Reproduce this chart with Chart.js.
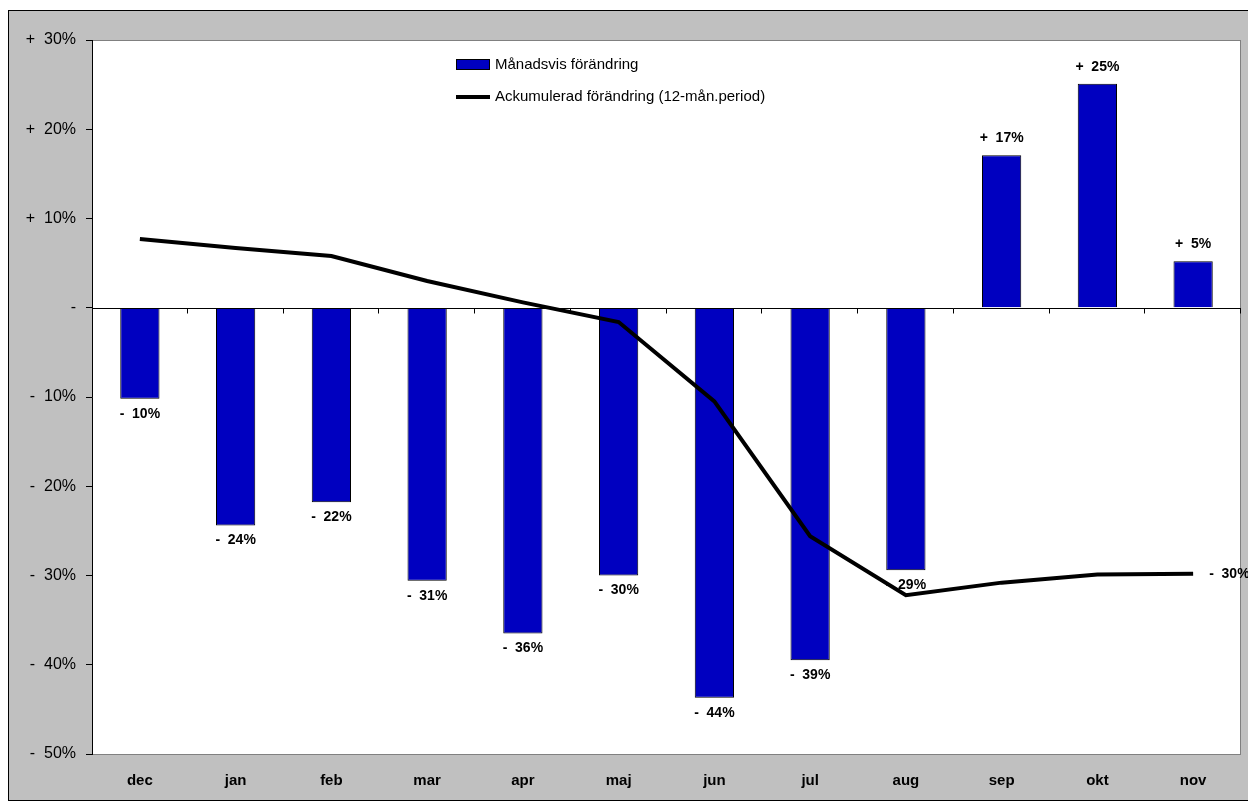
<!DOCTYPE html>
<html>
<head>
<meta charset="utf-8">
<script src="https://cdn.jsdelivr.net/npm/chart.js@4/dist/chart.umd.min.js"></script>
<style>
  html, body { margin: 0; padding: 0; background: #fff; }
  canvas { display: block; }
</style>
</head>
<body>
<canvas id="chart" width="1248" height="803"></canvas>
<script>
// chart data
const months = ['dec', 'jan', 'feb', 'mar', 'apr', 'maj', 'jun', 'jul', 'aug', 'sep', 'okt', 'nov'];
const monthly = [-10.2, -24.4, -21.8, -30.6, -36.5, -30.0, -43.7, -39.5, -29.4, 17.1, 25.1, 5.2];
const accumulated = [7.7, 6.7, 5.8, 3.0, 0.6, -1.6, -10.5, -25.6, -32.2, -30.8, -29.9, -29.8];
const yTicks = [30, 20, 10, 0, -10, -20, -30, -40, -50];

const FONT = 'Arial, "Liberation Sans", sans-serif';

const fmt = (v) => {
  const r = Math.round(v);
  if (r > 0) return '+  ' + r + '%';
  if (r < 0) return '-  ' + (-r) + '%';
  return '-';
};

// frame, plot area background, zero line, value labels, legend
const excelLook = {
  id: 'excelLook',
  beforeDraw(chart) {
    const { ctx, chartArea: a } = chart;
    ctx.save();
    ctx.fillStyle = '#fff';
    ctx.fillRect(0, 0, chart.width, chart.height);
    ctx.fillStyle = '#c0c0c0';
    ctx.fillRect(8, 10, chart.width, 791);
    ctx.strokeStyle = '#000';
    ctx.lineWidth = 1;
    ctx.strokeRect(8.5, 10.5, chart.width + 10, 790);
    ctx.fillStyle = '#fff';
    ctx.fillRect(a.left, a.top, a.right - a.left, a.bottom - a.top);
    ctx.strokeStyle = '#808080';
    ctx.strokeRect(a.left + 0.5, a.top + 0.5, a.right - a.left - 1, a.bottom - a.top);
    ctx.restore();
  },
  afterDatasetDraw(chart, args) {
    if (args.index !== 0) return;
    const { ctx, chartArea: a, scales } = chart;
    const y0 = Math.round(scales.y.getPixelForValue(0)) + 0.5;
    const step = (a.right - a.left) / months.length;
    ctx.save();
    ctx.strokeStyle = '#000';
    ctx.lineWidth = 1;
    ctx.beginPath();
    ctx.moveTo(a.left, y0);
    ctx.lineTo(a.right, y0);
    for (let k = 1; k <= months.length; k++) {
      const x = Math.round(a.left + k * step) - 0.5;
      ctx.moveTo(x, y0);
      ctx.lineTo(x, y0 + 5);
    }
    ctx.stroke();

    ctx.fillStyle = '#000';
    ctx.font = 'bold 14px ' + FONT;
    ctx.textAlign = 'center';
    ctx.textBaseline = 'middle';
    chart.getDatasetMeta(0).data.forEach((bar, i) => {
      const v = monthly[i];
      const ty = v >= 0 ? bar.y - 17 : bar.y + 15;
      ctx.fillText(fmt(v), bar.x, ty);
    });
    ctx.restore();
  },
  afterDraw(chart) {
    const { ctx } = chart;
    ctx.save();
    // last value of the accumulated line
    const pts = chart.getDatasetMeta(1).data;
    const last = pts[pts.length - 1];
    ctx.fillStyle = '#000';
    ctx.font = 'bold 14px ' + FONT;
    ctx.textAlign = 'left';
    ctx.textBaseline = 'middle';
    ctx.fillText(fmt(accumulated[accumulated.length - 1]), last.x + 16, last.y);

    // legend
    const ds = chart.data.datasets;
    ctx.font = '15px ' + FONT;
    ctx.fillStyle = ds[0].backgroundColor;
    ctx.fillRect(456, 59, 34, 11);
    ctx.strokeStyle = '#000';
    ctx.lineWidth = 1;
    ctx.strokeRect(456.5, 59.5, 33, 10);
    ctx.fillStyle = '#000';
    ctx.fillText(ds[0].label, 495, 65);
    ctx.strokeStyle = ds[1].borderColor;
    ctx.lineWidth = 4;
    ctx.beginPath();
    ctx.moveTo(456, 97);
    ctx.lineTo(490, 97);
    ctx.stroke();
    ctx.fillText(ds[1].label, 495, 97);
    ctx.restore();
  }
};

new Chart(document.getElementById('chart'), {
  type: 'bar',
  data: {
    labels: months,
    datasets: [
      {
        type: 'bar',
        label: 'Månadsvis förändring',
        data: monthly,
        backgroundColor: '#0000c0',
        borderColor: '#000',
        borderWidth: 1,
        barPercentage: 0.41,
        categoryPercentage: 1,
        order: 2
      },
      {
        type: 'line',
        label: 'Ackumulerad förändring (12-mån.period)',
        data: accumulated,
        borderColor: '#000',
        borderWidth: 4,
        pointRadius: 0,
        tension: 0,
        fill: false,
        order: 1
      }
    ]
  },
  options: {
    responsive: false,
    animation: false,
    layout: { padding: { left: 0, top: 40, right: 7, bottom: 0 } },
    plugins: {
      legend: { display: false },
      tooltip: { enabled: false }
    },
    scales: {
      x: {
        grid: { display: false },
        border: { display: false },
        ticks: { color: '#000', font: { family: FONT, size: 15, weight: 'bold' }, padding: 10 },
        afterFit: (s) => { s.height = 49; }
      },
      y: {
        min: -50,
        max: 30,
        afterBuildTicks: (s) => { s.ticks = yTicks.map((v) => ({ value: v })); },
        grid: { drawOnChartArea: false, drawTicks: true, tickLength: 6, color: '#000' },
        border: { display: true, color: '#000', width: 1 },
        ticks: {
          color: '#000',
          padding: 10,
          font: { family: FONT, size: 16 },
          callback: (v) => fmt(v)
        },
        afterFit: (s) => { s.width = 92; }
      }
    }
  },
  plugins: [excelLook]
});
</script>
</body>
</html>
